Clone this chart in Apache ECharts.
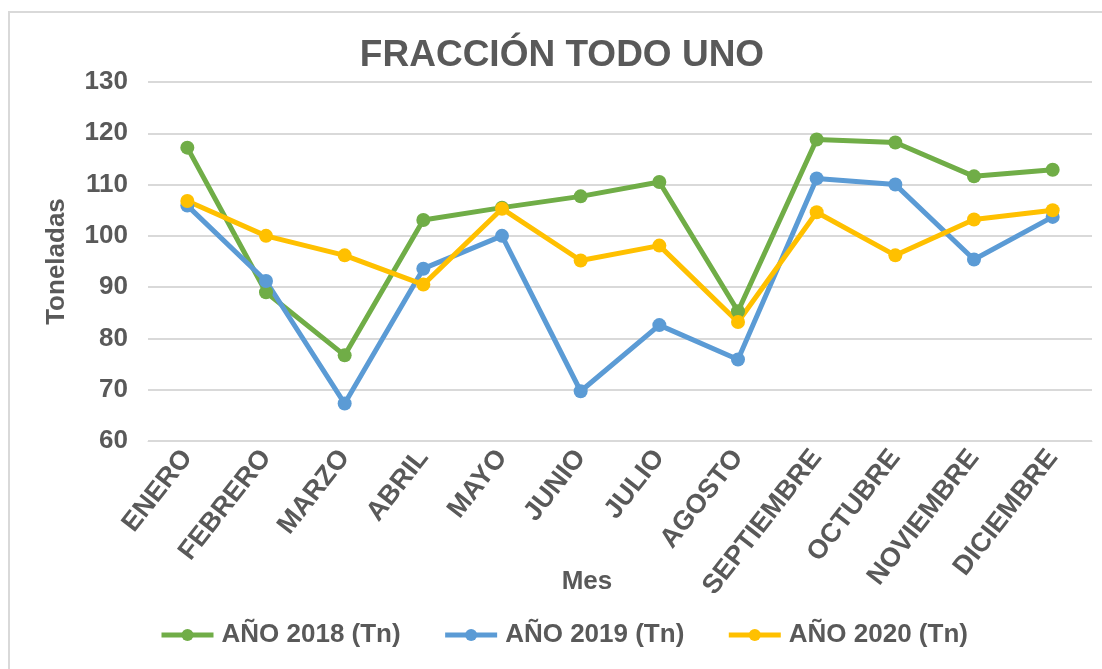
<!DOCTYPE html>
<html>
<head>
<meta charset="utf-8">
<script src="https://cdn.jsdelivr.net/npm/echarts@6/dist/echarts.min.js"></script>
<style>
  html, body { margin: 0; padding: 0; background: #fff; }
  #main { width: 1102px; height: 669px; }
</style>
</head>
<body>
<div id="main"></div>
<script>
// meses
var meses = ['ENERO', 'FEBRERO', 'MARZO', 'ABRIL', 'MAYO', 'JUNIO', 'JULIO',
  'AGOSTO', 'SEPTIEMBRE', 'OCTUBRE', 'NOVIEMBRE', 'DICIEMBRE'];
// toneladas por año
var anio2018 = [117.2, 89.0, 76.7, 103.1, 105.5, 107.7, 110.5, 85.3, 118.8, 118.2, 111.6, 112.9];
var anio2019 = [105.9, 91.2, 67.3, 93.6, 100.0, 69.7, 82.6, 75.9, 111.2, 110.0, 95.4, 103.7];
var anio2020 = [106.8, 100.0, 96.2, 90.5, 105.3, 95.2, 98.1, 83.2, 104.6, 96.2, 103.2, 105.0];
var nombres = ['AÑO 2018 (Tn)', 'AÑO 2019 (Tn)', 'AÑO 2020 (Tn)'];

var texto = '#595959';
var fuente = 'Liberation Sans, Arial, sans-serif';

function serie(nombre, datos, color) {
  return {
    name: nombre,
    type: 'line',
    data: datos,
    symbol: 'circle',
    symbolSize: 14,
    lineStyle: { width: 5, color: color },
    itemStyle: { color: color },
    emphasis: { disabled: true }
  };
}

var chart = echarts.init(document.getElementById('main'));
chart.setOption({
  animation: false,
  textStyle: { fontFamily: fuente },
  title: {
    text: 'FRACCIÓN TODO UNO',
    left: 562,
    textAlign: 'center',
    top: 37,
    padding: 0,
    textStyle: { color: texto, fontSize: 37, fontWeight: 'bold', fontFamily: fuente }
  },
  graphic: [{
    type: 'rect',
    shape: { x: 9, y: 12, width: 1300, height: 900 },
    style: { fill: 'none', stroke: '#D9D9D9', lineWidth: 2 },
    silent: true
  }],
  grid: { left: 148, right: 10, top: 82, bottom: 228 },
  legend: {
    data: nombres,
    bottom: 16,
    left: 154,
    itemWidth: 52,
    itemHeight: 15,
    itemGap: 42,
    lineStyle: { width: 5 },
    textStyle: { color: texto, fontSize: 26, fontWeight: 'bold', fontFamily: fuente, padding: [0, 0, 0, 3] }
  },
  xAxis: {
    type: 'category',
    data: meses,
    name: 'Mes',
    nameLocation: 'middle',
    nameGap: 128,
    nameMoveOverlap: false,
    nameTextStyle: { color: texto, fontSize: 26, fontWeight: 'bold', padding: [0, 66, 0, 0] },
    axisLine: { show: true, lineStyle: { color: '#D9D9D9' } },
    axisTick: { show: false },
    axisLabel: {
      interval: 0,
      rotate: 52,
      margin: 12,
      color: texto,
      fontSize: 27,
      fontWeight: 'bold'
    }
  },
  yAxis: {
    type: 'value',
    min: 60,
    max: 130,
    interval: 10,
    name: 'Toneladas',
    nameLocation: 'middle',
    nameGap: 78,
    nameRotate: 90,
    nameTextStyle: { color: texto, fontSize: 26, fontWeight: 'bold' },
    axisLine: { show: false },
    axisTick: { show: false },
    axisLabel: { color: texto, fontSize: 26, fontWeight: 'bold', margin: 20 },
    splitLine: { lineStyle: { color: '#D9D9D9', width: 2 } }
  },
  series: [
    serie(nombres[0], anio2018, '#70AD47'),
    serie(nombres[1], anio2019, '#5B9BD5'),
    serie(nombres[2], anio2020, '#FFC000')
  ]
});
</script>
</body>
</html>
